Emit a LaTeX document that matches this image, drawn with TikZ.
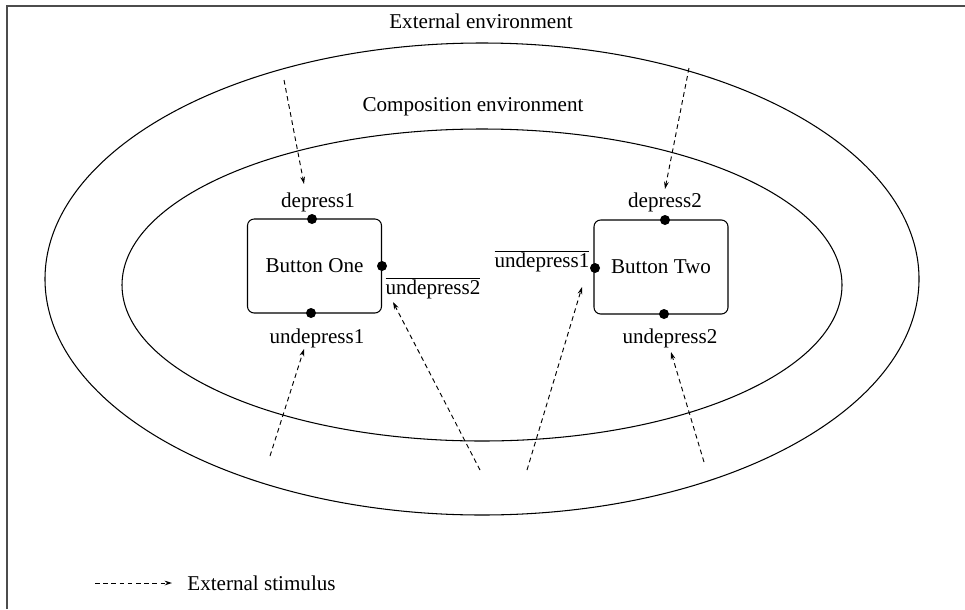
\documentclass[tikz,border=0pt]{standalone}
\usepackage{fontspec}
\setmainfont{Liberation Serif}
\usetikzlibrary{arrows.meta}
\begin{document}
\begin{tikzpicture}[x=0.03cm,y=-0.03cm,
  every node/.style={font=\fontsize{18}{21}\selectfont, inner sep=1pt},
  envline/.style={line width=0.9pt},
  button/.style={draw, line width=0.9pt, rounded corners=0.2cm, minimum width=4.02cm, minimum height=2.82cm},
  port/.style={circle, fill=black, inner sep=0pt, minimum size=0.3cm},
  stim/.style={line width=0.8pt, dash pattern=on 4pt off 3pt, -{Stealth[length=0.22cm,width=0.14cm]}}]
  \useasboundingbox (0,0) rectangle (965,609);
  % partial frame
  \draw[line width=1pt, black!70] (7,609) -- (7,6) -- (965,6);

  % environments
  \draw[envline] (482,279) ellipse [x radius=437, y radius=236];
  \draw[envline] (482,285) ellipse [x radius=360, y radius=156];
  \node (extenv) at (481,21) {External environment};
  \node (compenv) at (473,107) {Composition environment};

  % buttons
  \node[button] (b1) at (314.5,266) {Button One};
  \node[button] (b2) at (661,267) {Button Two};
  \node[port] (p1t) at (312,219) {};
  \node[port] (p1r) at (382,266) {};
  \node[port] (p1b) at (311,313) {};
  \node[port] (p2t) at (665,220) {};
  \node[port] (p2l) at (595,268) {};
  \node[port] (p2b) at (664,314) {};

  % port labels
  \node (dep1) at (318,202) {depress1};
  \node (dep2) at (665,202) {depress2};
  \node (und1) at (317,338) {undepress1};
  \node (und2) at (670,338) {undepress2};
  \node (nund2) at (433,288) {$\overline{\mbox{undepress2}}$};
  \node (nund1) at (542,261) {$\overline{\mbox{undepress1}}$};

  % external stimuli
  \coordinate (s1) at (284,80);   \coordinate (t1) at (304,184);
  \coordinate (s2) at (689,68);   \coordinate (t2) at (665,189);
  \coordinate (s3) at (270,456);  \coordinate (t3) at (304,349);
  \coordinate (s4) at (480,470);  \coordinate (t4) at (393,302);
  \coordinate (s5) at (527,470);  \coordinate (t5) at (582,287);
  \coordinate (s6) at (704,462);  \coordinate (t6) at (671,352);
  \draw[stim] (s1) -- (t1);
  \draw[stim] (s2) -- (t2);
  \draw[stim] (s3) -- (t3);
  \draw[stim] (s4) -- (t4);
  \draw[stim] (s5) -- (t5);
  \draw[stim] (s6) -- (t6);

  % legend
  \coordinate (la) at (95,583);
  \coordinate (lb) at (172,583);
  \draw[stim] (la) -- (lb);
  \node[anchor=west] (legend) at (186,583) {External stimulus};
\end{tikzpicture}
\end{document}
